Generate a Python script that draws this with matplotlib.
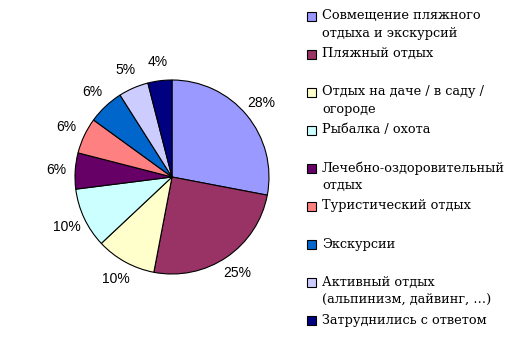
import matplotlib
matplotlib.use("Agg")
import matplotlib.pyplot as plt
from matplotlib.patches import Rectangle

labels = [
    "Совмещение пляжного\nотдыха и экскурсий",
    "Пляжный отдых",
    "Отдых на даче / в саду /\nогороде",
    "Рыбалка / охота",
    "Лечебно-оздоровительный\nотдых",
    "Туристический отдых",
    "Экскурсии",
    "Активный отдых\n(альпинизм, дайвинг, …)",
    "Затруднились с ответом",
]
shares = [28, 25, 10, 10, 6, 6, 6, 5, 4]
colors = ["#9999FF", "#993366", "#FFFFCC", "#CCFFFF", "#660066",
          "#FF8080", "#0066CC", "#CCCCFF", "#000080"]

W, H = 521, 355
fig = plt.figure(figsize=(W / 100, H / 100), dpi=100)

# pie: centre (172, 177) px from top-left, radius 97 px; pie() uses +-1.25 limits
cx, cy, r = 172, 177, 97
half = 1.25 * r
ax = fig.add_axes([(cx - half) / W, (H - cy - half) / H, 2 * half / W, 2 * half / H])
wedges, texts = ax.pie(
    shares, colors=colors, startangle=90, counterclock=False,
    wedgeprops=dict(edgecolor="black", linewidth=0.8),
    labels=[f"{v}%" for v in shares], labeldistance=1.2,
    textprops=dict(family="Liberation Sans", fontsize=10),
)
for t in texts:
    t.set_ha("center")
    t.set_va("center")

# legend, drawn by hand so the swatch sits on the first text line
for i, (lab, col) in enumerate(zip(labels, colors)):
    yc = 16 + i * 38.1
    fig.add_artist(Rectangle((307 / W, (H - yc - 4.5) / H), 9 / W, 9 / H,
                             transform=fig.transFigure, facecolor=col,
                             edgecolor="black", linewidth=0.8))
    fig.text(322 / W, (H - yc + 7) / H, lab, ha="left", va="top",
             family="DejaVu Serif", fontsize=9.3, linespacing=1.45)

fig.savefig("out.png", dpi=100)
